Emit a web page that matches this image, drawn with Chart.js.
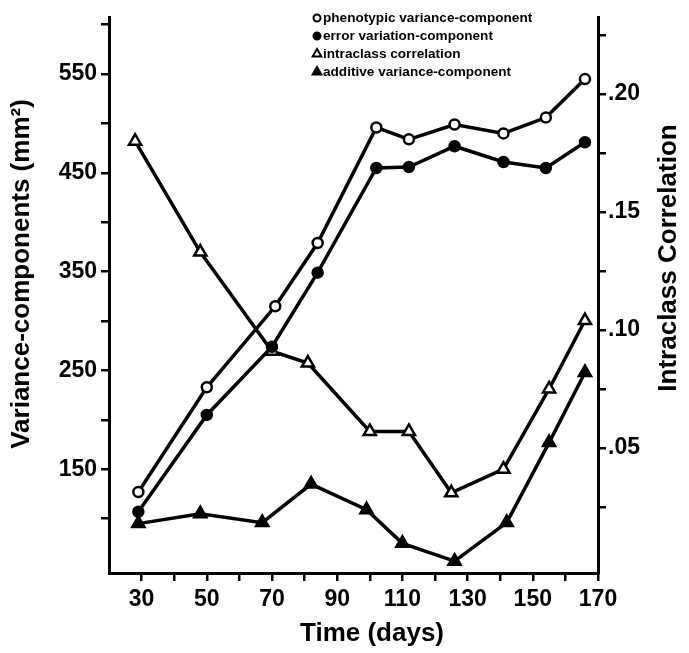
<!DOCTYPE html>
<html>
<head>
<meta charset="utf-8">
<script src="https://cdn.jsdelivr.net/npm/chart.js@4.4.1/dist/chart.umd.min.js"></script>
<style>
  body { margin: 0; background: #fff; }
</style>
</head>
<body>
<canvas id="chart" width="689" height="653"></canvas>
<script>
const phenoDays = [29, 50, 71, 84, 102, 112, 126, 141, 154, 166]
const phenoValues = [127, 233, 315, 379, 496, 484, 499, 490, 506, 545]

const errorDays = [29, 50, 70, 84, 102, 112, 126, 141, 154, 166]
const errorValues = [107, 205, 274, 349, 455, 456, 477, 461, 455, 481]

const iccDays = [28, 48, 70, 81, 100, 112, 125, 141, 155, 166]
const iccValues = [0.180, 0.133, 0.091, 0.086, 0.057, 0.057, 0.031, 0.041, 0.075, 0.104]

const additiveDays = [29, 48, 67, 82, 99, 110, 126, 142, 155, 166]
const additiveValues = [95, 105, 96, 135, 109, 75, 57, 96, 177, 248]

// tick marks and labels
const xTicks = [30, 40, 50, 60, 70, 80, 90, 100, 110, 120, 130, 140, 150, 160, 170]
const xLabels = [30, 50, 70, 90, 110, 130, 150, 170]
const leftTicks = [100, 150, 200, 250, 300, 350, 400, 450, 500, 550, 600]
const leftLabels = [150, 250, 350, 450, 550]
const rightTicks = [0.025, 0.05, 0.075, 0.10, 0.125, 0.15, 0.175, 0.20, 0.225]
const rightLabels = ['.05', '.10', '.15', '.20']
const rightLabelValues = [0.05, 0.10, 0.15, 0.20]

const font = "'Liberation Sans', Arial, Helvetica, sans-serif"
Chart.defaults.font.family = font
Chart.defaults.color = '#000'

const toXY = (xs, ys) => xs.map((x, i) => ({ x: x, y: ys[i] }))
const setTicks = (values) => (scale) => { scale.ticks = values.map(v => ({ value: v })) }

const axisTitles = {
  id: 'axisTitles',
  afterDraw(chart) {
    const ctx = chart.ctx
    ctx.save()
    ctx.fillStyle = '#000'
    ctx.textAlign = 'center'
    ctx.textBaseline = 'middle'
    ctx.font = 'bold 26px ' + font
    ctx.save()
    ctx.translate(22, 274)
    ctx.rotate(-Math.PI / 2)
    ctx.fillText('Variance-components (mm²)', 0, 0)
    ctx.restore()
    ctx.save()
    ctx.translate(669, 258)
    ctx.rotate(-Math.PI / 2)
    ctx.fillText('Intraclass Correlation', 0, 0)
    ctx.restore()
    ctx.fillText('Time (days)', 372, 634)
    ctx.restore()
  }
}

const legendBox = {
  id: 'legendBox',
  afterDraw(chart) {
    const ctx = chart.ctx
    const rows = [18, 36, 54, 72]
    ctx.save()
    ctx.font = 'bold 13.6px ' + font
    ctx.textBaseline = 'middle'
    chart.data.datasets.forEach((ds, i) => {
      ctx.fillStyle = ds.pointBackgroundColor
      ctx.strokeStyle = '#000'
      ctx.lineWidth = 2
      Chart.helpers.drawPoint(ctx, {
        pointStyle: ds.pointStyle, radius: ds.pointStyle === 'triangle' ? 5 : 3.5,
        borderWidth: 2, rotation: 0
      }, 317, rows[i])
      ctx.fillStyle = '#000'
      ctx.fillText(ds.label, 323, rows[i])
    })
    ctx.restore()
  }
}

const line = (label, xs, ys, style, fill, radius, axis) => ({
  label: label,
  data: toXY(xs, ys),
  yAxisID: axis,
  borderColor: '#000',
  borderWidth: 3.5,
  pointStyle: style,
  pointRadius: radius,
  pointBorderWidth: 2.5,
  pointBorderColor: '#000',
  pointBackgroundColor: fill,
  tension: 0
})

new Chart(document.getElementById('chart'), {
  type: 'line',
  data: {
    datasets: [
      line('phenotypic variance-component', phenoDays, phenoValues, 'circle', '#fff', 5, 'y'),
      line('error variation-component', errorDays, errorValues, 'circle', '#000', 5, 'y'),
      line('intraclass correlation', iccDays, iccValues, 'triangle', '#fff', 7, 'y2'),
      line('additive variance-component', additiveDays, additiveValues, 'triangle', '#000', 7, 'y')
    ]
  },
  options: {
    responsive: false,
    animation: false,
    layout: { padding: { top: 11, left: 0, right: 0, bottom: 0 } },
    plugins: { legend: { display: false }, tooltip: { enabled: false } },
    scales: {
      x: {
        type: 'linear',
        min: 20,
        max: 170,
        afterBuildTicks: setTicks(xTicks),
        afterFit: (s) => { s.height = 80 },
        ticks: {
          autoSkip: false,
          maxRotation: 0,
          padding: 5,
          font: { size: 23, weight: 'bold' },
          callback: (v) => xLabels.includes(v) ? String(v) : ''
        },
        grid: { drawOnChartArea: false, tickLength: 8, color: '#000', lineWidth: 2.5 },
        border: { color: '#000', width: 3 }
      },
      y: {
        position: 'left',
        min: 45,
        max: 607,
        afterBuildTicks: setTicks(leftTicks),
        afterFit: (s) => { s.width = 109 },
        ticks: {
          autoSkip: false,
          padding: 4,
          font: { size: 23, weight: 'bold' },
          callback: (v) => leftLabels.includes(v) ? String(v) : ''
        },
        grid: { drawOnChartArea: false, tickLength: 8, color: '#000', lineWidth: 2.5 },
        border: { color: '#000', width: 3 }
      },
      y2: {
        position: 'right',
        min: -0.003,
        max: 0.2323,
        afterBuildTicks: setTicks(rightTicks),
        afterFit: (s) => { s.width = 91 },
        ticks: {
          autoSkip: false,
          padding: 2,
          font: { size: 23, weight: 'bold' },
          callback: (v) => {
            const k = rightLabelValues.findIndex(r => Math.abs(r - v) < 1e-6)
            return k >= 0 ? rightLabels[k] : ''
          }
        },
        grid: { drawOnChartArea: false, tickLength: 8, color: '#000', lineWidth: 2.5 },
        border: { color: '#000', width: 3 }
      }
    }
  },
  plugins: [axisTitles, legendBox]
})
</script>
</body>
</html>
